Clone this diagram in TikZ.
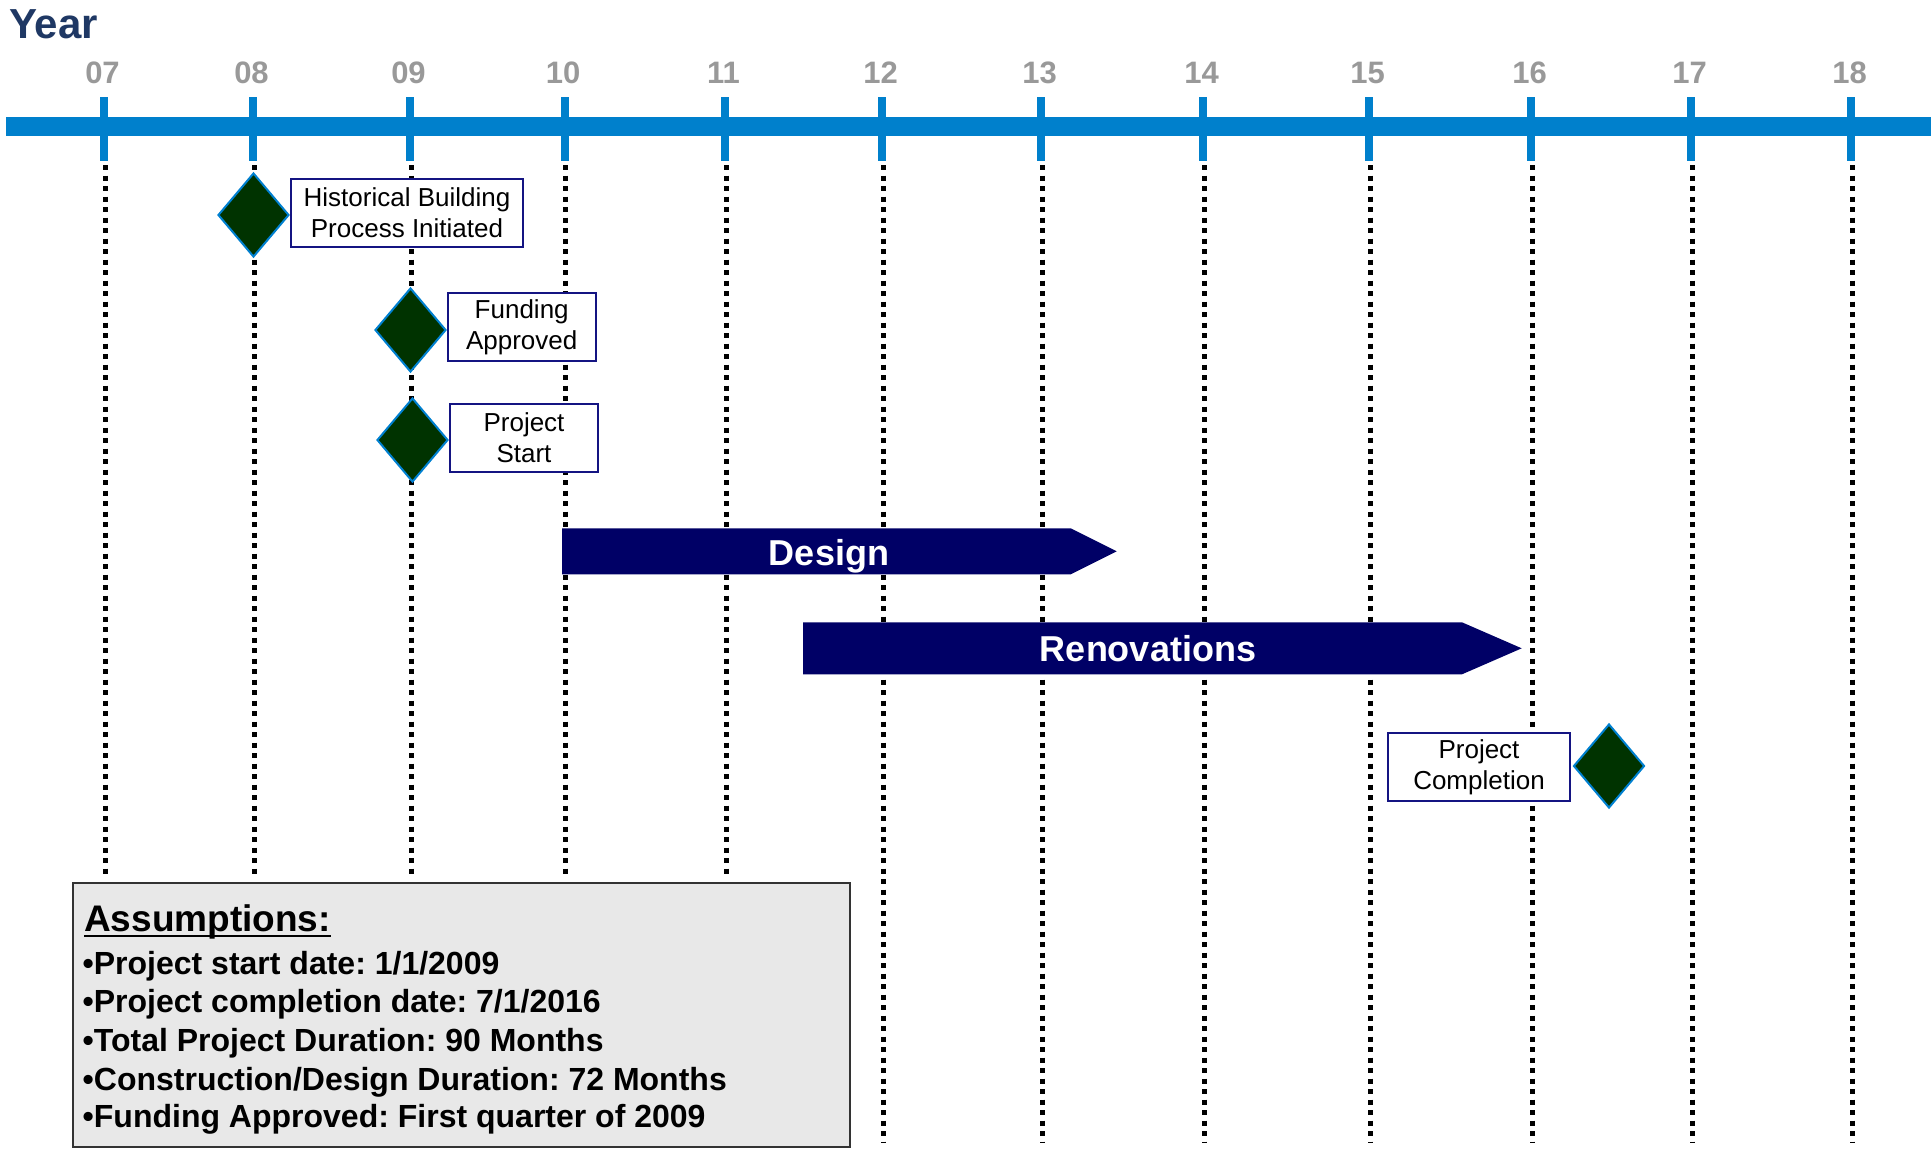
\documentclass[tikz,border=0pt]{standalone}
\usepackage{fontspec}
\setmainfont{Liberation Sans}
\usetikzlibrary{shapes.geometric}
\definecolor{axisblue}{RGB}{0,128,204}
\definecolor{yeargray}{RGB}{153,153,153}
\definecolor{titleblue}{RGB}{31,56,100}
\definecolor{barnavy}{RGB}{0,0,102}
\definecolor{boxnavy}{RGB}{20,20,130}
\definecolor{diagreen}{RGB}{0,51,0}
\definecolor{diaedge}{RGB}{0,128,208}
\definecolor{assumfill}{RGB}{232,232,232}
\begin{document}
\frenchspacing
\begin{tikzpicture}[x=1pt,y=-1pt,
  gridline/.style={line width=5pt, dash pattern=on 5pt off 5.5pt},
  ticktick/.style={fill=axisblue, draw=none},
  milestone/.style={diamond, draw=diaedge, line width=2pt, fill=diagreen, minimum width=71pt, minimum height=84pt, inner sep=0pt},
  labelbox/.style={draw=boxnavy, line width=2pt, fill=white, minimum height=68pt, inner sep=0pt, align=center, font=\fontsize{26}{31}\selectfont},
  yearlbl/.style={anchor=base, text=yeargray, font=\fontsize{31}{31}\selectfont\bfseries, inner sep=0pt},
  barlabel/.style={anchor=base, text=white, font=\fontsize{36}{36}\selectfont\bfseries, inner sep=0pt},
  bulletline/.style={anchor=base west, inner sep=0pt, font=\fontsize{32}{32}\selectfont\bfseries}
]
\useasboundingbox (0,0) rectangle (1931,1149);

% title
\node[anchor=base west, inner sep=0pt, text=titleblue, font=\fontsize{42}{42}\selectfont\bfseries] (year) at (9,38) {Year};

% grid lines
\foreach \x/\e in {104/878, 253/878, 410/878, 564.5/878, 725/878, 882/1143, 1041/1143, 1203/1143, 1369/1143, 1531/1143, 1691/1143, 1851/1143}{
  \coordinate (gtop) at (\x+1,165);
  \coordinate (gbot) at (\x+1,\e);
  \draw[gridline] (gtop) -- (gbot);
}

% axis
\coordinate (axL) at (6,126.5);
\coordinate (axR) at (1931,126.5);
\draw[axisblue, line width=18.4pt] (axL) -- (axR);
\foreach \x/\t in {104/07, 253/08, 410/09, 564.5/10, 725/11, 882/12, 1041/13, 1203/14, 1369/15, 1531/16, 1691/17, 1851/18}{
  \fill[ticktick] (\x-4,97.3) rectangle (\x+4,160.7);
  \node[yearlbl] (y\t) at (\x-1.5,83) {\t};
}

% milestones
\node[milestone] (m1) at (253.5,215) {};
\node[labelbox, minimum width=232pt] (b1) at (407,213) {Historical Building\\Process Initiated};
\node[milestone] (m2) at (410.5,330) {};
\node[labelbox, minimum width=148pt] (b2) at (521.7,327) {Funding\\Approved};
\node[milestone] (m3) at (412.5,440) {};
\node[labelbox, minimum width=148pt] (b3) at (524,438) {Project\\Start};
\node[labelbox, minimum width=182pt] (b4) at (1479,767) {Project\\Completion};
\node[milestone] (m4) at (1609,766) {};

% bars
\fill[barnavy] (562,528.3) -- (1070.7,528.3) -- (1116.7,551.3) -- (1070.7,574.3) -- (562,574.3) -- cycle;
\node[barlabel] (design) at (829,565) {Design};
\fill[barnavy] (803,622.3) -- (1462,622.3) -- (1521.7,648.3) -- (1462,674.3) -- (803,674.3) -- cycle;
\node[barlabel] (renov) at (1148,661.5) {Renovations};

% assumptions box
\draw[fill=assumfill, draw=black!80, line width=2pt] (72.5,883) rectangle (850,1147);
\node[anchor=base west, inner sep=0pt, font=\fontsize{37}{37}\selectfont\bfseries] (ah) at (84,931) {Assumptions:};
\draw[line width=2.8pt] ([yshift=-5pt]ah.base west) -- ([yshift=-5pt]ah.base east);
\node[bulletline] (a1) at (82.5,974) {•Project start date: 1/1/2009};
\node[bulletline] (a2) at (82.5,1012.7) {•Project completion date: 7/1/2016};
\node[bulletline] (a3) at (82.5,1051.5) {•Total Project Duration: 90 Months};
\node[bulletline] (a4) at (82.5,1090) {•Construction/Design Duration: 72 Months};
\node[bulletline] (a5) at (82.5,1127) {•Funding Approved: First quarter of 2009};
\end{tikzpicture}
\end{document}
